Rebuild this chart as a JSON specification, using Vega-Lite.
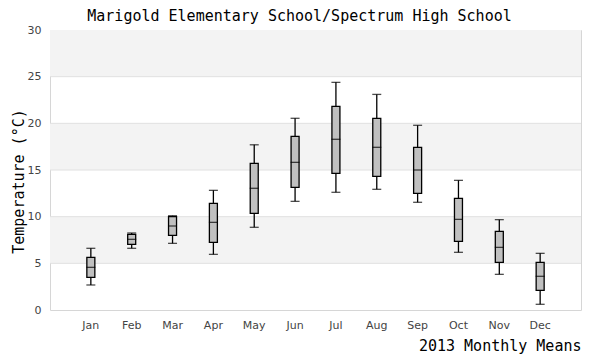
{
  "$schema": "https://vega.github.io/schema/vega-lite/v6.json",
  "width": 531,
  "height": 280,
  "autosize": {"type": "none"},
  "padding": {"left": 50, "top": 30, "right": 19, "bottom": 50},
  "background": "white",
  "title": {
    "text": "Marigold Elementary School/Spectrum High School",
    "font": "DejaVu Sans Mono",
    "fontSize": 15,
    "fontWeight": "normal",
    "color": "#000000",
    "anchor": "middle",
    "frame": "group",
    "dx": -16,
    "offset": 0
  },
  "config": {
    "view": {"stroke": "#d6d6d6", "strokeWidth": 1},
    "axis": {
      "labelFont": "DejaVu Sans",
      "labelFontSize": 11,
      "labelColor": "#444444",
      "titleFont": "DejaVu Sans Mono",
      "titleFontSize": 15,
      "titleFontWeight": "normal",
      "titleColor": "#000000",
      "domain": false,
      "ticks": false,
      "grid": false
    }
  },
  "datasets": {
    "bands": [
      {"lo": 5, "hi": 10},
      {"lo": 15, "hi": 20},
      {"lo": 25, "hi": 30}
    ],
    "grid": [
      {"v": 5}, {"v": 10}, {"v": 15}, {"v": 20}, {"v": 25}
    ],
    "stats": [
      {"month": "Jan", "min": 2.68, "q1": 3.5, "median": 4.57, "q3": 5.64, "max": 6.61},
      {"month": "Feb", "min": 6.61, "q1": 7.04, "median": 7.57, "q3": 8.1, "max": 8.25},
      {"month": "Mar", "min": 7.14, "q1": 8.0, "median": 9.0, "q3": 10.0, "max": 10.1},
      {"month": "Apr", "min": 5.96, "q1": 7.25, "median": 9.39, "q3": 11.43, "max": 12.82},
      {"month": "May", "min": 8.86, "q1": 10.36, "median": 13.04, "q3": 15.71, "max": 17.7},
      {"month": "Jun", "min": 11.64, "q1": 13.14, "median": 15.82, "q3": 18.6, "max": 20.54},
      {"month": "Jul", "min": 12.61, "q1": 14.64, "median": 18.29, "q3": 21.82, "max": 24.39},
      {"month": "Aug", "min": 12.93, "q1": 14.32, "median": 17.43, "q3": 20.54, "max": 23.1},
      {"month": "Sep", "min": 11.54, "q1": 12.5, "median": 15.0, "q3": 17.43, "max": 19.79},
      {"month": "Oct", "min": 6.18, "q1": 7.36, "median": 9.71, "q3": 11.96, "max": 13.89},
      {"month": "Nov", "min": 3.82, "q1": 5.11, "median": 6.71, "q3": 8.43, "max": 9.68},
      {"month": "Dec", "min": 0.61, "q1": 2.11, "median": 3.61, "q3": 5.11, "max": 6.07}
    ]
  },
  "encoding": {
    "x": {
      "field": "month",
      "type": "ordinal",
      "sort": ["Jan", "Feb", "Mar", "Apr", "May", "Jun", "Jul", "Aug", "Sep", "Oct", "Nov", "Dec"],
      "scale": {"type": "band", "paddingInner": 0, "paddingOuter": 0.5},
      "axis": {"title": "2013 Monthly Means", "labelAngle": 0, "labelPadding": 9, "titleAnchor": "end", "titlePadding": 8}
    }
  },
  "layer": [
    {
      "data": {"name": "bands"},
      "mark": {"type": "rect", "color": "#f3f3f3"},
      "encoding": {
        "x": null,
        "y": {
          "field": "lo",
          "type": "quantitative",
          "scale": {"domain": [0, 30], "nice": false, "zero": true},
          "axis": {"title": "Temperature (°C)", "values": [0, 5, 10, 15, 20, 25, 30], "labelPadding": 9, "titlePadding": 1, "titleY": 151}
        },
        "y2": {"field": "hi"}
      }
    },
    {
      "data": {"name": "grid"},
      "mark": {"type": "rule", "color": "#e0e0e0", "strokeWidth": 1},
      "encoding": {
        "x": null,
        "y": {"field": "v", "type": "quantitative", "title": "Temperature (°C)"}
      }
    },
    {
      "data": {"name": "stats"},
      "mark": {"type": "rule", "color": "#000000", "strokeWidth": 1.3},
      "encoding": {
        "y": {"field": "min", "type": "quantitative", "title": "Temperature (°C)"},
        "y2": {"field": "max"}
      }
    },
    {
      "data": {"name": "stats"},
      "mark": {"type": "bar", "fill": "#c0c0c0", "stroke": "#000000", "strokeWidth": 1.3, "size": 8},
      "encoding": {
        "y": {"field": "q1", "type": "quantitative", "title": "Temperature (°C)"},
        "y2": {"field": "q3"}
      }
    },
    {
      "data": {"name": "stats"},
      "mark": {"type": "tick", "color": "#000000", "thickness": 1.3, "size": 9},
      "encoding": {
        "y": {"field": "median", "type": "quantitative", "title": "Temperature (°C)"}
      }
    },
    {
      "data": {"name": "stats"},
      "mark": {"type": "tick", "color": "#000000", "thickness": 1.3, "size": 9},
      "encoding": {
        "y": {"field": "min", "type": "quantitative", "title": "Temperature (°C)"}
      }
    },
    {
      "data": {"name": "stats"},
      "mark": {"type": "tick", "color": "#000000", "thickness": 1.3, "size": 9},
      "encoding": {
        "y": {"field": "max", "type": "quantitative", "title": "Temperature (°C)"}
      }
    }
  ]
}
